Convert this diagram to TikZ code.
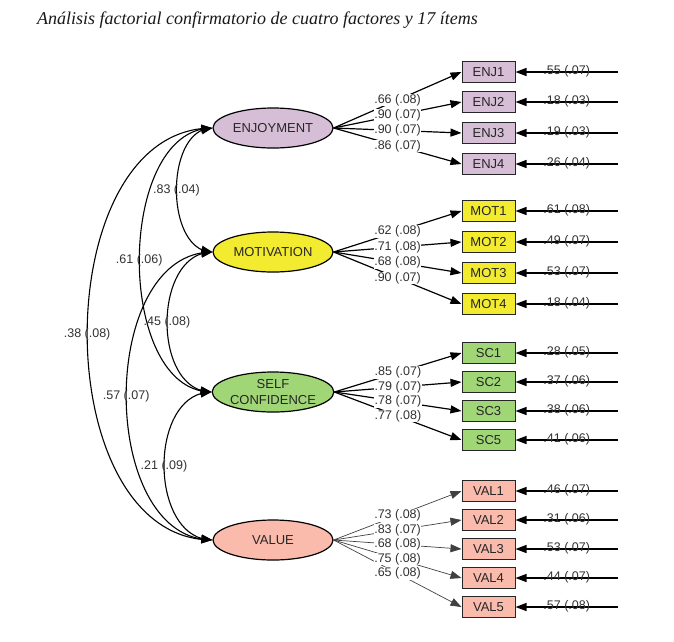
\documentclass[tikz,border=0pt]{standalone}
\usepackage{fontspec}
\setmainfont{Liberation Sans}
\newfontfamily\titlefont{Liberation Serif}
\usetikzlibrary{arrows.meta,shapes.geometric,bending}
\definecolor{cenj}{RGB}{214,191,214}
\definecolor{cmot}{RGB}{243,235,48}
\definecolor{csc}{RGB}{160,214,118}
\definecolor{cval}{RGB}{250,187,172}
\definecolor{txt}{RGB}{50,50,50}
\tikzset{
  latent/.style={ellipse, draw=black, line width=1.2pt, minimum width=120pt, minimum height=40pt, inner sep=0pt, align=center, font=\fontsize{13}{15.5}\selectfont, text=black!85},
  item/.style={rectangle, draw=black!85, line width=1pt, minimum width=53pt, minimum height=21pt, inner sep=0pt, font=\fontsize{13}{15}\selectfont, text=black!85},
  load/.style={->, line width=1.2pt},
  loadthin/.style={->, line width=0.7pt, draw=black!75},
  errarr/.style={->, line width=1.3pt},
  cov/.style={<->, line width=1.1pt},
  lab/.style={fill=white, inner sep=0.6pt, font=\fontsize{12.5}{14}\selectfont, text=txt},
  elab/.style={inner sep=0pt, yshift=0.8pt, font=\fontsize{12.5}{14}\selectfont, text=txt},
  clab/.style={inner sep=0pt, font=\fontsize{12.5}{14}\selectfont, text=txt},
}
\begin{document}
\begin{tikzpicture}[x=1pt, y=-1pt, >={Triangle[length=11pt,width=8pt]}]
\useasboundingbox (0,0) rectangle (674,641);
\node[anchor=west, inner sep=0pt, text=black!90, font=\titlefont\itshape\fontsize{18}{20}\selectfont] (title) at (37,20) {Análisis factorial confirmatorio de cuatro factores y 17 ítems};

% latent factors
\node[latent, fill=cenj] (enj) at (273,128) {ENJOYMENT};
\node[latent, fill=cmot] (mot) at (273,252) {MOTIVATION};
\node[latent, fill=csc]  (sc)  at (273,392) {SELF\\CONFIDENCE};
\node[latent, fill=cval] (val) at (273,540) {VALUE};

% items with error arrows
\foreach \f/\T/\n/\y/\e in {
  enj/ENJ/1/72/{.55 (.07)}, enj/ENJ/2/102/{.18 (.03)}, enj/ENJ/3/133/{.19 (.03)}, enj/ENJ/4/164/{.26 (.04)},
  mot/MOT/1/211/{.61 (.08)}, mot/MOT/2/242/{.49 (.07)}, mot/MOT/3/273/{.53 (.07)}, mot/MOT/4/304/{.18 (.04)},
  sc/SC/1/353/{.28 (.05)}, sc/SC/2/382/{.37 (.06)}, sc/SC/3/411/{.38 (.06)}, sc/SC/5/440/{.41 (.06)},
  val/VAL/1/491/{.46 (.07)}, val/VAL/2/520/{.31 (.06)}, val/VAL/3/549/{.53 (.07)}, val/VAL/4/578/{.44 (.07)}, val/VAL/5/607/{.57 (.08)}}
{
  \node[item, fill=c\f] (\f\n) at (488.5,\y) {\T\n};
  \coordinate (e\f\n) at (618,\y);
  \draw[errarr] (e\f\n) -- node[elab]{\e} (\f\n.east);
}

% loading lines
\foreach \f/\n in {enj/1,enj/2,enj/3,enj/4,mot/1,mot/2,mot/3,mot/4,sc/1,sc/2,sc/3,sc/5}
  \draw[load] (\f.east) -- (\f\n.west);
\foreach \n in {1,2,3,4,5}
  \draw[loadthin] (val.east) -- (val\n.west);

% loading labels
\foreach \f/\n/\l in {
  enj/4/{.86 (.07)}, enj/3/{.90 (.07)}, enj/2/{.90 (.07)}, enj/1/{.66 (.08)},
  mot/4/{.90 (.07)}, mot/3/{.68 (.08)}, mot/2/{.71 (.08)}, mot/1/{.62 (.08)},
  sc/5/{.77 (.08)}, sc/3/{.78 (.07)}, sc/2/{.79 (.07)}, sc/1/{.85 (.07)},
  val/5/{.65 (.08)}, val/4/{.75 (.08)}, val/3/{.68 (.08)}, val/2/{.83 (.07)}, val/1/{.73 (.08)}}
  \path (\f.east) -- node[lab]{\l} (\f\n.west);

% covariances
\draw[cov] (enj.west) .. controls +(-48,0) and +(-48,0) .. node[clab]{.83 (.04)} (mot.west);
\draw[cov] (enj.west) .. controls +(-97,0) and +(-97,0) .. node[clab]{.61 (.06)} (sc.west);
\draw[cov] (enj.west) .. controls +(-167,0) and +(-167,0) .. node[clab]{.38 (.08)} (val.west);
\draw[cov] (mot.west) .. controls +(-60,0) and +(-60,0) .. node[clab]{.45 (.08)} (sc.west);
\draw[cov] (mot.west) .. controls +(-115,0) and +(-115,0) .. node[clab]{.57 (.07)} (val.west);
\draw[cov] (sc.west) .. controls +(-64,0) and +(-64,0) .. node[clab]{.21 (.09)} (val.west);
\end{tikzpicture}
\end{document}
